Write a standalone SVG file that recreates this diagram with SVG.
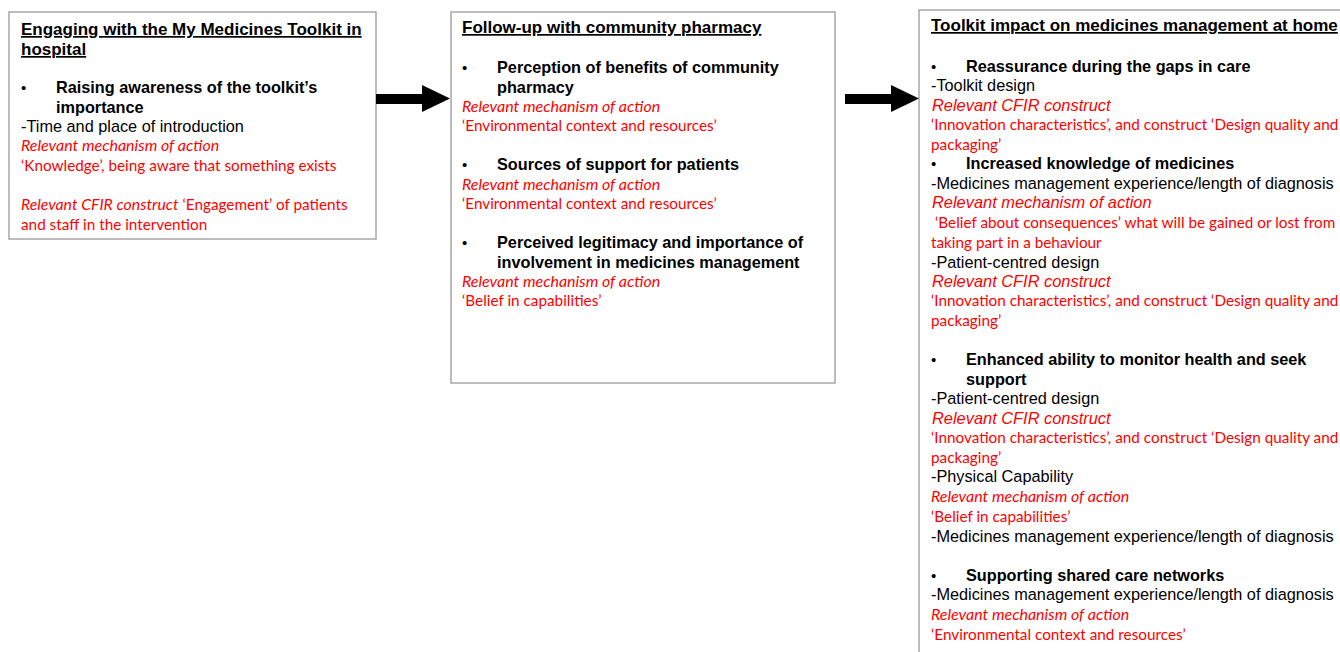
<svg xmlns="http://www.w3.org/2000/svg" width="1340" height="652" viewBox="0 0 1340 652">
<style>
.box{fill:#fff;stroke:#a6a6a6;stroke-width:1.5}
.t{font-family:"Liberation Sans",Arial,sans-serif;font-size:17px;font-weight:bold;text-decoration:underline;fill:#000}
.b{font-family:"Liberation Sans",Arial,sans-serif;font-size:16.25px;font-weight:bold;fill:#000}
.d{font-family:"Liberation Sans",Arial,sans-serif;font-size:15px;fill:#000}
.r{font-family:"Liberation Sans",Arial,sans-serif;font-size:16.3px;fill:#000}
.ai{font-family:"Liberation Sans",Arial,sans-serif;font-size:16.4px;font-style:italic;fill:#ff0000}
.ci{font-family:Lato,"Open Sans",sans-serif;font-size:16px;font-style:italic;fill:#ff0000}
.c{font-family:Lato,"Open Sans",sans-serif;font-size:15.3px;fill:#ff0000}
.arrow{fill:#000}
</style>
<rect width="1340" height="652" fill="#fff"/>
<g id="node-hospital">
<rect class="box" x="9" y="12" width="367" height="227"/>
<text class="t" x="21" y="35">Engaging with the My Medicines Toolkit in</text>
<text class="t" x="21" y="55">hospital</text>
<text class="d" x="21" y="93">•</text>
<text class="b" x="56" y="93">Raising awareness of the toolkit’s</text>
<text class="b" x="56" y="113">importance</text>
<text class="r" x="21" y="132">-Time and place of introduction</text>
<text class="ci" x="21" y="151">Relevant mechanism of action</text>
<text class="c" x="21" y="171">‘Knowledge’, being aware that something exists</text>
<text class="c" x="21" y="210"><tspan font-style="italic" font-size="15.8px">Relevant CFIR construct</tspan> ‘Engagement’ of patients</text>
<text class="c" x="21" y="230">and staff in the intervention</text>
</g>
<g id="node-pharmacy">
<rect class="box" x="451" y="12" width="384" height="371"/>
<text class="t" x="462" y="33">Follow-up with community pharmacy</text>
<text class="d" x="462" y="73">•</text>
<text class="b" x="497" y="73">Perception of benefits of community</text>
<text class="b" x="497" y="93">pharmacy</text>
<text class="ci" x="462" y="112">Relevant mechanism of action</text>
<text class="c" x="462" y="131">‘Environmental context and resources’</text>
<text class="d" x="462" y="170">•</text>
<text class="b" x="497" y="170">Sources of support for patients</text>
<text class="ci" x="462" y="190">Relevant mechanism of action</text>
<text class="c" x="462" y="209">‘Environmental context and resources’</text>
<text class="d" x="462" y="248">•</text>
<text class="b" x="497" y="248">Perceived legitimacy and importance of</text>
<text class="b" x="497" y="268">involvement in medicines management</text>
<text class="ci" x="462" y="287">Relevant mechanism of action</text>
<text class="c" x="462" y="306">‘Belief in capabilities’</text>
</g>
<g id="node-home">
<rect class="box" x="919" y="10" width="440" height="660"/>
<text class="t" x="931" y="31">Toolkit impact on medicines management at home</text>
<text class="d" x="931" y="72">•</text>
<text class="b" x="966" y="72">Reassurance during the gaps in care</text>
<text class="r" x="931" y="91">-Toolkit design</text>
<text class="ai" x="932" y="111">Relevant CFIR construct</text>
<text class="c" x="931" y="130">‘Innovation characteristics’, and construct ‘Design quality and</text>
<text class="c" x="931" y="150">packaging’</text>
<text class="d" x="931" y="169">•</text>
<text class="b" x="966" y="169">Increased knowledge of medicines</text>
<text class="r" x="931" y="189">-Medicines management experience/length of diagnosis</text>
<text class="ai" x="932" y="208">Relevant mechanism of action</text>
<text class="c" x="935" y="228">‘Belief about consequences’ what will be gained or lost from</text>
<text class="c" x="931" y="248">taking part in a behaviour</text>
<text class="r" x="931" y="268">-Patient-centred design</text>
<text class="ai" x="932" y="287">Relevant CFIR construct</text>
<text class="c" x="931" y="306">‘Innovation characteristics’, and construct ‘Design quality and</text>
<text class="c" x="931" y="326">packaging’</text>
<text class="d" x="931" y="365">•</text>
<text class="b" x="966" y="365">Enhanced ability to monitor health and seek</text>
<text class="b" x="966" y="385">support</text>
<text class="r" x="931" y="404">-Patient-centred design</text>
<text class="ai" x="932" y="424">Relevant CFIR construct</text>
<text class="c" x="931" y="443">‘Innovation characteristics’, and construct ‘Design quality and</text>
<text class="c" x="931" y="463">packaging’</text>
<text class="r" x="931" y="482">-Physical Capability</text>
<text class="ci" x="931" y="502">Relevant mechanism of action</text>
<text class="c" x="931" y="522">‘Belief in capabilities’</text>
<text class="r" x="931" y="542">-Medicines management experience/length of diagnosis</text>
<text class="d" x="931" y="581">•</text>
<text class="b" x="966" y="581">Supporting shared care networks</text>
<text class="r" x="931" y="600">-Medicines management experience/length of diagnosis</text>
<text class="ci" x="931" y="620">Relevant mechanism of action</text>
<text class="c" x="931" y="640">‘Environmental context and resources’</text>
</g>
<g id="connectors">
<polygon class="arrow" points="376,94 422,94 422,85 450,98.5 422,112 422,104 376,104"/>
<polygon class="arrow" points="845,94 891,94 891,85 919,98.5 891,112 891,104 845,104"/>
</g>
</svg>
